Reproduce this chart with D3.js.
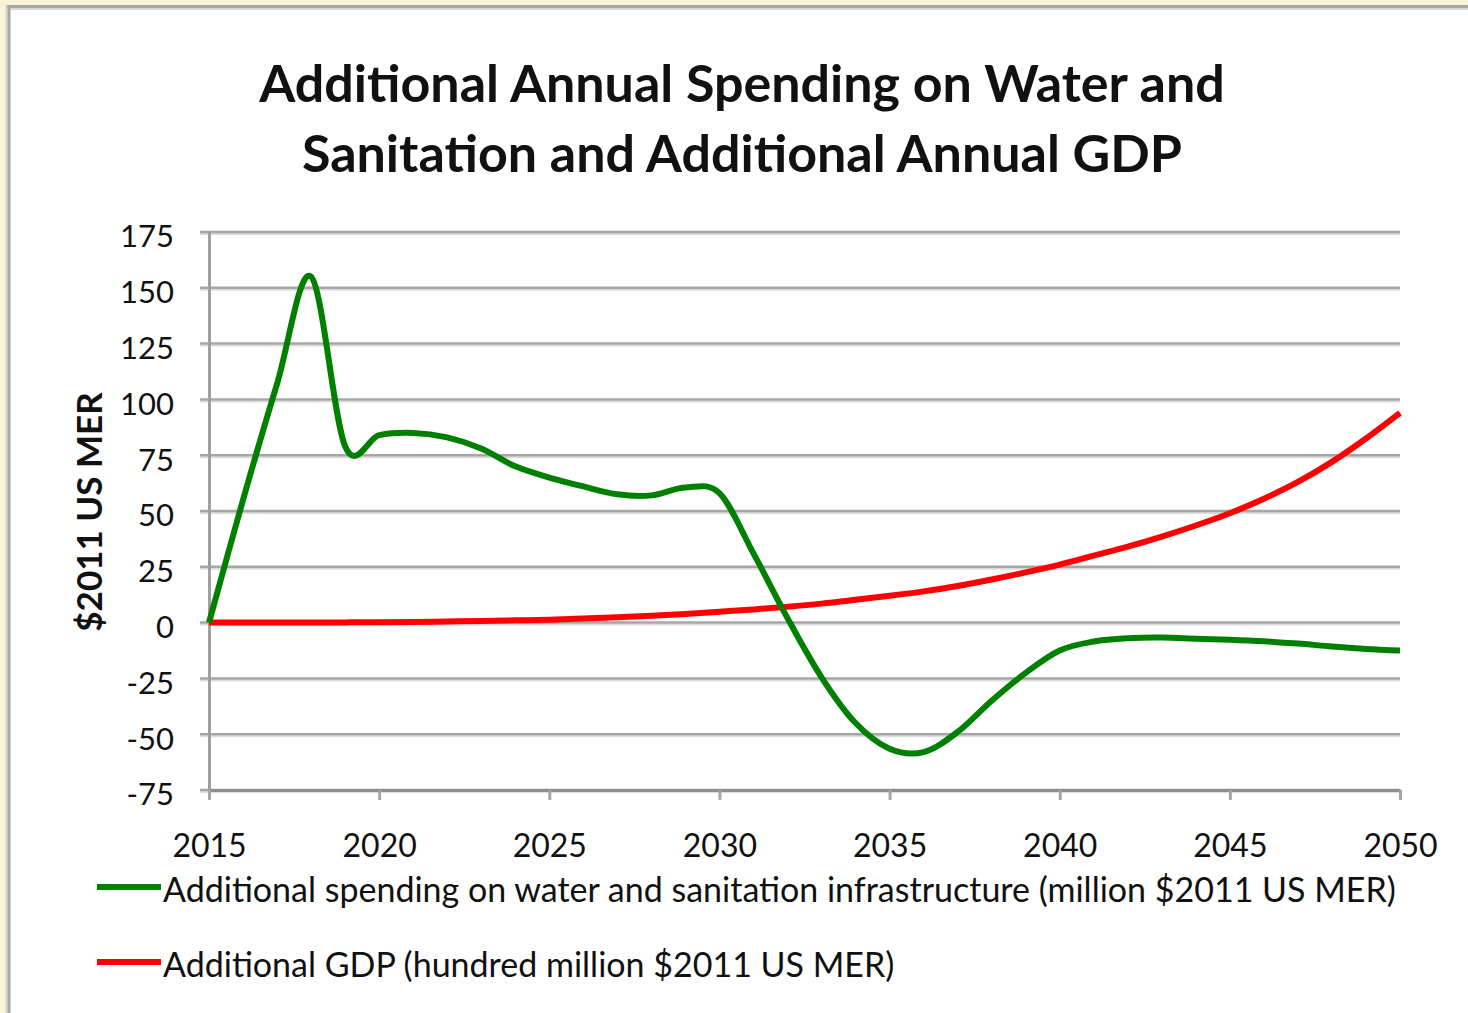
<!DOCTYPE html>
<html>
<head>
<meta charset="utf-8">
<script src="https://cdn.jsdelivr.net/npm/d3@7"></script>
<style>
  body { margin: 0; background: #fbf2d8; }
  svg { display: block; }
  text { font-family: Lato, "Open Sans", sans-serif; fill: #111; }
</style>
</head>
<body>
<script>
// data
const years = d3.range(2015, 2051);
const spending = [0, 55, 107, 155, 79, 84, 85, 83, 78, 70, 65, 61, 57.5, 57, 60.5, 58,
  31, 2, -24.5, -45, -56.5, -58, -49, -35, -22.5, -12.5, -8.5, -7, -6.7, -7.2, -7.7,
  -8.4, -9.4, -10.7, -11.8, -12.5];
const gdp = [0, 0, 0, 0, 0.1, 0.2, 0.3, 0.5, 0.7, 1, 1.3, 1.8, 2.4, 3.1, 3.9, 4.9,
  5.9, 7.1, 8.5, 10.2, 12, 14, 16.4, 19.3, 22.5, 26, 30, 34, 38.5, 43.5, 49,
  55.5, 63, 72, 82.5, 94];
const yTicks = [-75, -50, -25, 0, 25, 50, 75, 100, 125, 150, 175];
const xTicks = [2015, 2020, 2025, 2030, 2035, 2040, 2045, 2050];
const seriesNames = [
  "Additional spending on water and sanitation infrastructure (million $2011 US MER)",
  "Additional GDP (hundred million $2011 US MER)"
];
const colors = ["#008000", "#ff0000"];
const titleLines = ["Additional Annual Spending on Water and", "Sanitation and Additional Annual GDP"];

const W = 1468, H = 1013;
const svg = d3.select("body").append("svg").attr("width", W).attr("height", H);

// frame
svg.append("rect").attr("x", 8).attr("y", 7).attr("width", W).attr("height", H)
  .attr("fill", "#fff");
svg.append("line").attr("x1", 7).attr("x2", W).attr("y1", 6.5).attr("y2", 6.5)
  .attr("stroke", "#a8a8a8").attr("stroke-width", 3);
svg.append("line").attr("x1", 9).attr("x2", W).attr("y1", 9).attr("y2", 9)
  .attr("stroke", "#dadada").attr("stroke-width", 2);
svg.append("line").attr("x1", 6.5).attr("x2", 6.5).attr("y1", 5).attr("y2", H)
  .attr("stroke", "#d4d4d4").attr("stroke-width", 2);
svg.append("line").attr("x1", 9).attr("x2", 9).attr("y1", 5).attr("y2", H)
  .attr("stroke", "#a8a8a8").attr("stroke-width", 3);

const x = d3.scaleLinear().domain([2015, 2050]).range([209, 1400]);
const y = d3.scaleLinear().domain([-75, 175]).range([790, 232]);

// gridlines (with light shadow below)
const grid = svg.append("g");
grid.selectAll("line.sh").data(yTicks).enter().append("line")
  .attr("x1", 200).attr("x2", 1400)
  .attr("y1", d => y(d) + 2).attr("y2", d => y(d) + 2)
  .attr("stroke", "#dcdcdc").attr("stroke-width", 2);
grid.selectAll("line.gl").data(yTicks).enter().append("line")
  .attr("x1", 200).attr("x2", 1400)
  .attr("y1", d => y(d)).attr("y2", d => y(d))
  .attr("stroke", "#a6a6a6").attr("stroke-width", 2.5);

// y axis
const yAxis = svg.append("g").attr("transform", "translate(209,0)")
  .call(d3.axisLeft(y).tickValues(yTicks).tickFormat(d => String(d))
    .tickSize(0).tickPadding(35));
yAxis.select(".domain").attr("stroke", "#a0a0a0").attr("stroke-width", 3);
yAxis.selectAll("text").style("font-size", "31px").attr("dy", "0.48em")
  .style("font-family", "Lato, sans-serif").attr("fill", "#111");

// x axis
const xAxis = svg.append("g").attr("transform", "translate(0,790)")
  .call(d3.axisBottom(x).tickValues(xTicks).tickFormat(d3.format("d"))
    .tickSize(10).tickSizeOuter(0).tickPadding(34));
xAxis.select(".domain").attr("stroke", "#8f8f8f").attr("stroke-width", 3);
xAxis.selectAll(".tick line").attr("stroke", "#a6a6a6").attr("stroke-width", 3);
xAxis.selectAll("text").style("font-size", "32px")
  .style("font-family", "Lato, sans-serif").attr("fill", "#111");

// lines
const line = d3.line().x((d, i) => x(years[i])).y(d => y(d)).curve(d3.curveCardinal);
const paths = [gdp, spending].map((s, k) => {
  const i = k === 0 ? 1 : 0;
  return svg.append("path").datum(s)
    .attr("fill", "none")
    .attr("stroke", colors[i])
    .attr("stroke-width", 6)
    .attr("stroke-linejoin", "round")
    .attr("d", line);
});

// title
svg.append("text").attr("x", 742).attr("text-anchor", "middle")
  .style("font-size", "52px").style("font-weight", "bold")
  .selectAll("tspan").data(titleLines).enter().append("tspan")
  .attr("x", 742).attr("y", (d, i) => 102 + i * 70).text(d => d);

// y axis label
svg.append("text")
  .attr("transform", "translate(102,512) rotate(-90)")
  .attr("text-anchor", "middle")
  .style("font-size", "35px").style("font-weight", "bold")
  .text("$2011 US MER");

// legend
const lg = svg.append("g");
seriesNames.forEach((name, i) => {
  const ly = 887 + i * 75;
  lg.append("line").attr("x1", 97).attr("x2", 161).attr("y1", ly).attr("y2", ly)
    .attr("stroke", colors[i]).attr("stroke-width", 6);
  lg.append("text").attr("x", 163).attr("y", ly + 15)
    .style("font-size", "34px").text(name);
});
</script>
</body>
</html>
